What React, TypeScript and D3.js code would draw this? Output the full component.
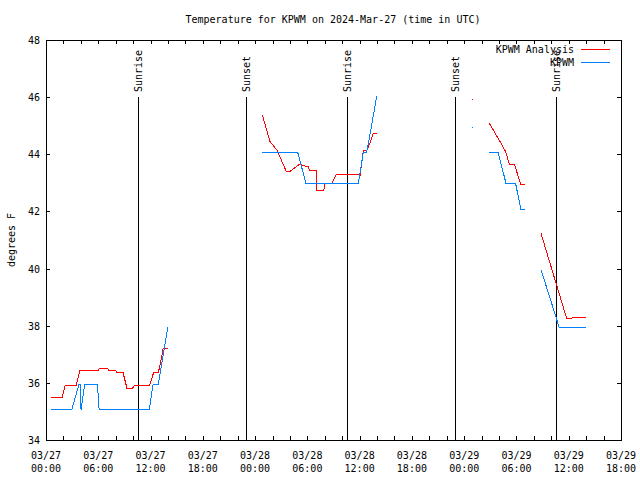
import React from "react";
import * as d3 from "d3";

// hours since 2024-03-27 00:00 UTC; null = gap
const analysisHours: (number | null)[] = [
  0.55, 1.85, 2.2, 3.45, 3.9, 6.0, 6.1, 7.1, 7.2, 8.0, 8.2, 8.85, 9.3, 9.9, 10.2, 11.9, 12.35, 12.9, 13.2, 13.45, 13.95,
  null,
  24.83, 25.7, 26.5, 27.6, 27.95, 29.15, 29.7, 30.1, 30.23, 31.0, 31.07, 31.9, 32.0, 32.8, 33.37, 35.85, 36.04, 36.2, 36.42, 36.8, 37.2, 37.57, 37.96,
  null,
  48.93,
  null,
  50.9, 52.2, 52.76, 53.2, 53.8, 54.5, 55.0,
  null,
  56.82, 59.77, 60.34, 60.4, 61.95,
];
const analysisTemps: (number | null)[] = [
  35.5, 35.5, 35.9, 35.9, 36.45, 36.45, 36.5, 36.5, 36.42, 36.42, 36.35, 36.35, 35.8, 35.8, 35.92, 35.92, 36.36, 36.36, 36.8, 37.2, 37.2,
  null,
  45.38, 44.45, 44.15, 43.39, 43.39, 43.66, 43.59, 43.59, 43.43, 43.43, 42.75, 42.75, 42.98, 42.98, 43.31, 43.31, 43.24, 43.6, 44.13, 44.13, 44.4, 44.73, 44.73,
  null,
  45.92,
  null,
  45.08, 44.4, 44.09, 43.63, 43.63, 42.93, 42.93,
  null,
  41.23, 38.25, 38.25, 38.3, 38.3,
];
const obsHours: (number | null)[] = [
  0.55, 2.95, 3.8, 3.98, 4.02, 4.45, 5.9, 6.1, 11.85, 12.3, 12.9, 13.45, 13.97,
  null,
  24.83, 28.9, 29.84, 35.85, 36.42, 36.8, 37.35, 37.96,
  null,
  48.93,
  null,
  50.9, 51.9, 52.8, 53.9, 54.5, 55.0,
  null,
  56.82, 58.6, 58.9, 61.95,
];
const obsTemps: (number | null)[] = [
  35.06, 35.06, 35.96, 35.96, 35.06, 35.96, 35.96, 35.06, 35.06, 35.96, 35.96, 36.96, 37.94,
  null,
  44.06, 44.06, 42.98, 42.98, 44.06, 44.06, 44.96, 46.04,
  null,
  44.96,
  null,
  44.06, 44.06, 42.98, 42.98, 42.08, 42.08,
  null,
  39.96, 38.24, 37.94, 37.94,
];
const sunHours = [10.6, 22.97, 34.6, 46.98, 58.57];
const sunLabels = ["Sunrise", "Sunset", "Sunrise", "Sunset", "Sunrise"];
const yTicks = [34, 36, 38, 40, 42, 44, 46, 48];
const seriesNames = ["KPWM Analysis", "KPWM"];
const seriesColors = ["#ff0000", "#0080ff"];
const titleText = "Temperature for KPWM on 2024-Mar-27 (time in UTC)";
const yLabel = "degrees F";

const W = 640, H = 480;
const L = 46, R = 621, T = 40, B = 440;
const t0 = Date.UTC(2024, 2, 27, 0);
const toDate = (h: number) => new Date(t0 + h * 3600e3);
const FONT = "'DejaVu Sans Mono', monospace";

export default function App() {
  const x = d3.scaleUtc().domain([toDate(0), toDate(66)]).range([L, R]);
  const y = d3.scaleLinear().domain([34, 48]).range([B, T]);

  const mk = (hs: (number | null)[], ts: (number | null)[]) =>
    hs.map((h, i) => ({ h, t: ts[i] }));
  const series = [mk(analysisHours, analysisTemps), mk(obsHours, obsTemps)];
  const line = d3
    .line<{ h: number | null; t: number | null }>()
    .defined((d) => d.h != null && d.t != null)
    .x((d) => x(toDate(d.h as number)))
    .y((d) => y(d.t as number));

  const isolated = (pts: { h: number | null; t: number | null }[]) =>
    pts.filter(
      (d, i) =>
        d.h != null &&
        (i === 0 || pts[i - 1].h == null) &&
        (i === pts.length - 1 || pts[i + 1].h == null)
    );

  const xTicks = x.ticks(d3.utcHour.every(2) as any);
  const labelTicks = xTicks.filter((d) => d.getUTCHours() % 6 === 0);
  const fmtD = d3.utcFormat("%m/%d");
  const fmtH = d3.utcFormat("%H:%M");

  return (
    <svg width={W} height={H} style={{ position: "absolute", left: 0, top: 0, background: "#fff" }} fontFamily={FONT} fontSize={10}>
      <rect x={0} y={0} width={W} height={H} fill="#fff" />
      <text x={333} y={23} textAnchor="middle" fill="#000">{titleText}</text>

      {/* sun lines */}
      {sunHours.map((h, i) => {
        const sx = Math.round(x(toDate(h))) + 0.5;
        return (
          <g key={"s" + i}>
            <line x1={sx} x2={sx} y1={97} y2={B} stroke="#000" strokeWidth={1} shapeRendering="crispEdges" />
            <text transform={`translate(${sx},92) rotate(-90)`} dy="0.35em" fill="#000">{sunLabels[i]}</text>
          </g>
        );
      })}

      {/* axes box */}
      <rect x={L + 0.5} y={T + 0.5} width={R - L} height={B - T} fill="none" stroke="#000" shapeRendering="crispEdges" />

      {/* x ticks */}
      {xTicks.map((d, i) => {
        const tx = Math.round(x(d)) + 0.5;
        return (
          <g key={"xt" + i}>
            <line x1={tx} x2={tx} y1={B} y2={B - 4} stroke="#000" shapeRendering="crispEdges" />
            <line x1={tx} x2={tx} y1={T} y2={T + 4} stroke="#000" shapeRendering="crispEdges" />
          </g>
        );
      })}
      {labelTicks.map((d, i) => {
        const tx = x(d);
        return (
          <g key={"xl" + i}>
            <text x={tx} y={459} textAnchor="middle" fill="#000">{fmtD(d)}</text>
            <text x={tx} y={472} textAnchor="middle" fill="#000">{fmtH(d)}</text>
          </g>
        );
      })}

      {/* y ticks */}
      {yTicks.map((v) => {
        const ty = Math.round(y(v)) + 0.5;
        return (
          <g key={"yt" + v}>
            <line x1={L} x2={L + 4} y1={ty} y2={ty} stroke="#000" shapeRendering="crispEdges" />
            <line x1={R} x2={R - 4} y1={ty} y2={ty} stroke="#000" shapeRendering="crispEdges" />
            <text x={40} y={ty} dy="0.35em" textAnchor="end" fill="#000">{v}</text>
          </g>
        );
      })}
      <text transform={`translate(11,240) rotate(-90)`} textAnchor="middle" dy="0.35em" fill="#000">{yLabel}</text>

      {/* data */}
      {series.map((s, i) => (
        <g key={"d" + i}>
          <path d={line(s) || ""} fill="none" stroke={seriesColors[i]} strokeWidth={1} shapeRendering="crispEdges" />
          {isolated(s).map((d, j) => (
            <rect key={j} x={Math.round(x(toDate(d.h as number)))} y={Math.round(y(d.t as number))} width={1} height={1} fill={seriesColors[i]} />
          ))}
        </g>
      ))}

      {/* legend */}
      {seriesNames.map((n, i) => {
        const ly = 49 + i * 13;
        return (
          <g key={"lg" + i}>
            <text x={574} y={ly} dy="0.35em" textAnchor="end" fill="#000">{n}</text>
            <line x1={581} x2={610} y1={ly + 0.5} y2={ly + 0.5} stroke={seriesColors[i]} shapeRendering="crispEdges" />
          </g>
        );
      })}
    </svg>
  );
}
